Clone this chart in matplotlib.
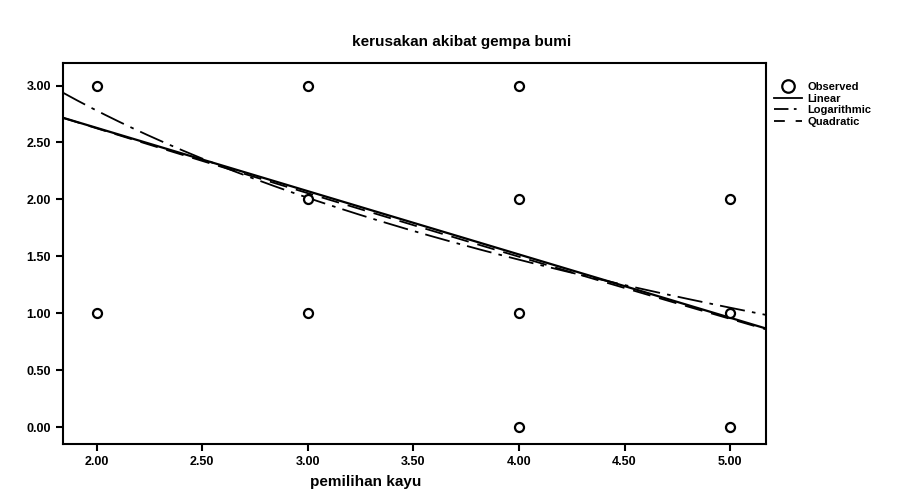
import numpy as np
import matplotlib.pyplot as plt
from matplotlib.lines import Line2D

plt.rcParams['font.family'] = ['Liberation Sans', 'DejaVu Sans']

# observed points (pemilihan kayu, kerusakan)
obs_x = [2, 2, 3, 3, 3, 4, 4, 4, 4, 5, 5, 5]
obs_y = [3, 1, 3, 2, 1, 3, 2, 1, 0, 2, 1, 0]

# fitted curve coefficients
linear_coef = [3.74, -0.556]          # b0, b1
log_coef = [4.09, -1.89]              # b0, b1 * ln(x)
quad_coef = [3.80, -0.60, 0.006]      # b0, b1, b2

xticks = [2.0, 2.5, 3.0, 3.5, 4.0, 4.5, 5.0]
yticks = [0.0, 0.5, 1.0, 1.5, 2.0, 2.5, 3.0]

fig = plt.figure(figsize=(9.24, 4.94), dpi=100)
ax = fig.add_axes([0.068, 0.101, 0.761, 0.772])

xs = np.linspace(1.84, 5.17, 200)
ax.plot(xs, linear_coef[0] + linear_coef[1] * xs, color='black', lw=1.6)
ax.plot(xs, log_coef[0] + log_coef[1] * np.log(xs), color='black', lw=1.3,
        dashes=(14, 4, 2, 4))
ax.plot(xs, quad_coef[0] + quad_coef[1] * xs + quad_coef[2] * xs ** 2,
        color='black', lw=1.3, dashes=(10, 5))
ax.plot(obs_x, obs_y, 'o', mfc='white', mec='black', ms=6.5, mew=1.6,
        linestyle='none')

ax.set_xlim(1.84, 5.17)
ax.set_ylim(-0.15, 3.2)
ax.set_xticks(xticks)
ax.set_yticks(yticks)
ax.set_xticklabels(['%.2f' % v for v in xticks], fontsize=9, fontweight='bold')
ax.set_yticklabels(['%.2f' % v for v in yticks], fontsize=9, fontweight='bold')
ax.tick_params(direction='out', length=5, width=1.5)
for s in ax.spines.values():
    s.set_linewidth(1.5)

ax.set_xlabel('pemilihan kayu', fontsize=11, fontweight='bold', labelpad=3)
ax.xaxis.set_label_coords(0.43, -0.08)
fig.suptitle('kerusakan akibat gempa bumi', fontsize=11, fontweight='bold',
             x=0.5, y=0.93)

handles = [
    Line2D([], [], marker='o', mfc='white', mec='black', ms=9, mew=1.6,
           linestyle='none'),
    Line2D([], [], color='black', lw=1.3),
    Line2D([], [], color='black', lw=1.3, dashes=(8, 3, 1.5, 3)),
    Line2D([], [], color='black', lw=1.3, dashes=(6, 6)),
]
leg = ax.legend(handles, ['Observed', 'Linear', 'Logarithmic', 'Quadratic'],
                loc='upper left', bbox_to_anchor=(1.0, 0.97), frameon=False,
                fontsize=8, handlelength=2.5, labelspacing=0.15,
                borderaxespad=0.3, handletextpad=0.5)
for t in leg.get_texts():
    t.set_fontweight('bold')

fig.savefig('out.png', dpi=100)
